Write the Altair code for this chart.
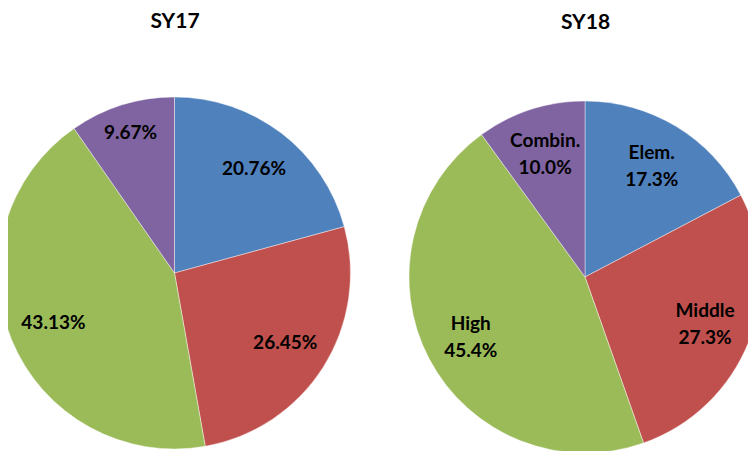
import altair as alt
import pandas as pd

# ---- data ----
categories = ["Elem.", "Middle", "High", "Combin."]
sy17_values = [20.76, 26.45, 43.13, 9.67]
sy18_values = [17.3, 27.3, 45.4, 10.0]
years = ["SY17", "SY18"]
colors = ["#4F81BD", "#C0504D", "#9BBB59", "#8064A2"]

rows = []
for yr, vals in zip(years, [sy17_values, sy18_values]):
    for i, (c, v) in enumerate(zip(categories, vals)):
        rows.append({"year": yr, "category": c, "value": v, "rank": i})
df = pd.DataFrame(rows)
titles_df = pd.DataFrame({"year": years})

# ---- layout ----
W, H = 740, 443
R = 176
centers = {"SY17": (166.5, 265), "SY18": (577, 269)}
title_y = {"SY17": 20, "SY18": 21}
FONT = "Lato"

color = alt.Color("category:N", scale=alt.Scale(domain=categories, range=colors), legend=None)
theta = alt.Theta("value:Q", stack="normalize")
order = alt.Order("rank:Q")

layers = []
for yr in years:
    cx, cy = centers[yr]
    sub = alt.Chart(df).transform_filter(alt.datum.year == yr)
    pie = sub.mark_arc(radius=R, stroke="white", strokeWidth=0.6, strokeOpacity=0.7).encode(
        theta=theta, color=color, order=order, x=alt.value(cx), y=alt.value(cy)
    )
    layers.append(pie)

    txt = dict(fontSize=19, fontWeight="bold", font=FONT, color="black",
               align="center", baseline="middle", lineHeight=27, lineBreak="\n")
    if yr == "SY17":
        main = sub.transform_calculate(
            label="datum.category == 'Combin.' ? '' : format(datum.value, '.2f') + '%'"
        ).mark_text(radius=131, **txt).encode(
            theta=theta, order=order, text="label:N", x=alt.value(cx), y=alt.value(cy)
        )
        small = sub.transform_calculate(
            label="datum.category == 'Combin.' ? format(datum.value, '.2f') + '%' : ''"
        ).mark_text(radius=147, **txt).encode(
            theta=theta, order=order, text="label:N", x=alt.value(cx), y=alt.value(cy)
        )
        layers += [main, small]
    else:
        lab = sub.transform_calculate(
            label="datum.category + '\\n' + format(datum.value, '.1f') + '%'"
        ).mark_text(radius=129, dy=-13.5, **txt).encode(
            theta=theta, order=order, text="label:N", x=alt.value(cx), y=alt.value(cy)
        )
        layers.append(lab)

    ttl = alt.Chart(titles_df).transform_filter(alt.datum.year == yr).mark_text(
        fontSize=21, fontWeight="bold", font=FONT, color="black",
        align="center", baseline="alphabetic"
    ).encode(text="year:N", x=alt.value(cx + 0.5), y=alt.value(title_y[yr]))
    layers.append(ttl)

chart = alt.layer(*layers).properties(
    width=W, height=H,
    autosize=alt.AutoSizeParams(type="none"),
    padding=0,
    background="white",
).configure_view(stroke=None)

chart.save("out.html", embed_options={"renderer": "svg", "actions": False})
